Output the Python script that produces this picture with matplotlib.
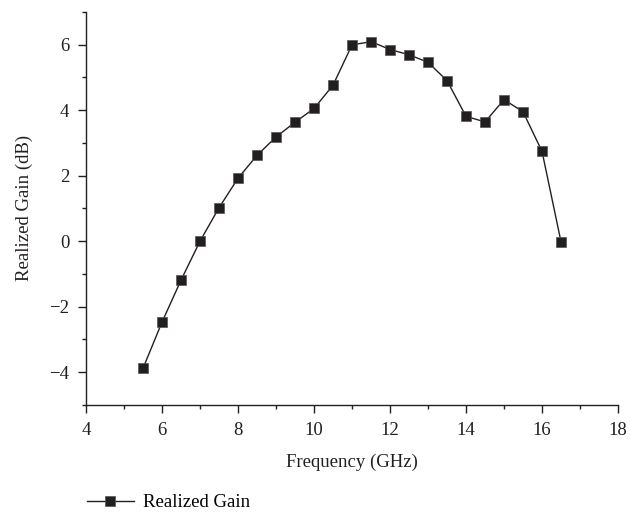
import matplotlib.pyplot as plt
from matplotlib.ticker import MultipleLocator

plt.rcParams['font.family'] = ['Liberation Serif', 'DejaVu Serif']

freq = [5.5, 6.0, 6.5, 7.0, 7.5, 8.0, 8.5, 9.0, 9.5, 10.0, 10.5, 11.0,
        11.5, 12.0, 12.5, 13.0, 13.5, 14.0, 14.5, 15.0, 15.5, 16.0, 16.5]
gain = [-3.88, -2.47, -1.19, 0.0, 1.02, 1.92, 2.62, 3.18, 3.63, 4.05, 4.76, 5.99,
        6.09, 5.85, 5.69, 5.46, 4.90, 3.81, 3.64, 4.32, 3.95, 2.74, -0.02]

ink = '#231f20'

fig = plt.figure(figsize=(6.3, 5.14), dpi=100)
ax = fig.add_axes([0.1365, 0.212, 0.8445, 0.765])

line, = ax.plot(freq, gain, color=ink, lw=1.0, marker='s', markersize=6.5,
                markerfacecolor=ink, markeredgecolor='#555555', markeredgewidth=0.5,
                label='Realized Gain')

ax.set_xlim(4, 18)
ax.set_ylim(-5, 7)
ax.xaxis.set_major_locator(MultipleLocator(2))
ax.xaxis.set_minor_locator(MultipleLocator(1))
ax.yaxis.set_major_locator(MultipleLocator(2))
ax.yaxis.set_minor_locator(MultipleLocator(1))

for side in ('top', 'right'):
    ax.spines[side].set_visible(False)
for side in ('left', 'bottom'):
    ax.spines[side].set_color(ink)
    ax.spines[side].set_linewidth(1.0)

ax.tick_params(which='major', direction='out', length=6, width=1.0, colors=ink,
               labelsize=13.5, labelcolor=ink, pad=6)
ax.tick_params(which='minor', direction='out', length=3, width=1.0, colors=ink)

ax.set_xlabel('Frequency (GHz)', fontsize=13.5, color=ink, labelpad=11)
ax.set_ylabel('Realized Gain (dB)', fontsize=13.5, color=ink, labelpad=12)

# legend sits below the axes, flush with the left spine
fig.legend(handles=[line], loc='center left', bbox_to_anchor=(0.111, 0.022),
           frameon=False, fontsize=13.5, handlelength=2.5, handletextpad=0.5)

fig.savefig('out.png', dpi=100)
